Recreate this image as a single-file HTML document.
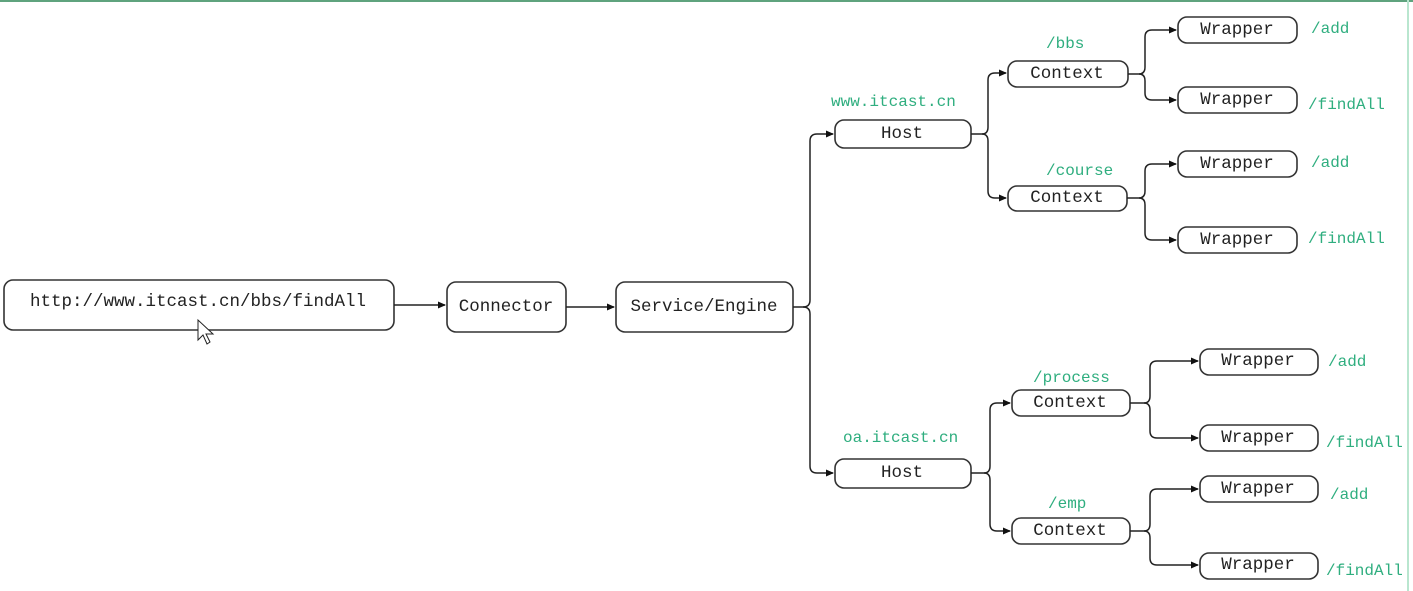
<!DOCTYPE html>
<html><head><meta charset="utf-8"><style>
html,body{margin:0;padding:0;background:#fff;}
svg{display:block;}
text{font-family:"Courier New","Liberation Mono",monospace;font-size:17.5px;}
.b{fill:#fff;stroke:#333;stroke-width:1.6;}
.t{fill:#222;text-anchor:middle;dominant-baseline:central;}
.g{fill:#2fae7f;font-size:16px;}
.l{fill:none;stroke:#222;stroke-width:1.5;}
</style></head><body>
<svg width="1413" height="591" viewBox="0 0 1413 591">
<defs><marker id="a" markerWidth="8" markerHeight="8" refX="7" refY="4" orient="auto" markerUnits="userSpaceOnUse"><path d="M0,0.5 L8,4 L0,7.5z" fill="#111"/></marker></defs>
<rect x="0" y="0" width="1413" height="2" fill="#5fa37e"/>
<rect x="1407" y="0" width="2" height="591" fill="#b9e6cf"/>

<rect class="b" x="4" y="280" width="390" height="50" rx="9"/>
<text class="t" x="198" y="302">http://www.itcast.cn/bbs/findAll</text>
<rect class="b" x="447" y="282" width="119" height="50" rx="9"/>
<text class="t" x="506" y="307">Connector</text>
<rect class="b" x="616" y="282" width="177" height="50" rx="9"/>
<text class="t" x="704" y="307">Service/Engine</text>
<path class="l" d="M394,305 H445" marker-end="url(#a)"/>
<path class="l" d="M566,307 H614" marker-end="url(#a)"/>
<path class="l" d="M793,307 H803 Q810,307 810,300 V141 Q810,134 817,134 H833" marker-end="url(#a)"/>
<path class="l" d="M803,307 Q810,307 810,314 V466 Q810,473 817,473 H833" marker-end="url(#a)"/>

<rect class="b" x="835" y="120" width="136" height="28" rx="9"/>
<text class="t" x="902" y="134">Host</text>
<text class="g" x="831" y="106">www.itcast.cn</text>
<rect class="b" x="835" y="459" width="136" height="29" rx="9"/>
<text class="t" x="902" y="473">Host</text>
<text class="g" x="843" y="442">oa.itcast.cn</text>

<path class="l" d="M971,134 H982 Q988,134 988,127 V80 Q988,73 995,73 H1006" marker-end="url(#a)"/>
<path class="l" d="M982,134 Q988,134 988,141 V191 Q988,198 995,198 H1006" marker-end="url(#a)"/>
<rect class="b" x="1008" y="61" width="120" height="26" rx="9"/>
<text class="t" x="1067" y="74">Context</text>
<text class="g" x="1046" y="48">/bbs</text>
<rect class="b" x="1008" y="186" width="119" height="25" rx="9"/>
<text class="t" x="1067" y="198">Context</text>
<text class="g" x="1046" y="175">/course</text>

<path class="l" d="M971,473 H984 Q990,473 990,466 V410 Q990,403 997,403 H1010" marker-end="url(#a)"/>
<path class="l" d="M984,473 Q990,473 990,480 V524 Q990,531 997,531 H1010" marker-end="url(#a)"/>
<rect class="b" x="1012" y="390" width="118" height="26" rx="9"/>
<text class="t" x="1070" y="403">Context</text>
<text class="g" x="1033" y="382">/process</text>
<rect class="b" x="1012" y="518" width="118" height="26" rx="9"/>
<text class="t" x="1070" y="531">Context</text>
<text class="g" x="1048" y="508">/emp</text>

<path class="l" d="M1128,74 H1139 Q1145,74 1145,67 V37 Q1145,30 1152,30 H1176" marker-end="url(#a)"/>
<path class="l" d="M1139,74 Q1145,74 1145,81 V93 Q1145,100 1152,100 H1176" marker-end="url(#a)"/>
<path class="l" d="M1127,198 H1139 Q1145,198 1145,191 V171 Q1145,164 1152,164 H1176" marker-end="url(#a)"/>
<path class="l" d="M1139,198 Q1145,198 1145,205 V233 Q1145,240 1152,240 H1176" marker-end="url(#a)"/>
<rect class="b" x="1178" y="17" width="119" height="26" rx="9"/><text class="t" x="1237" y="30">Wrapper</text><text class="g" x="1311" y="33">/add</text>
<rect class="b" x="1178" y="87" width="119" height="26" rx="9"/><text class="t" x="1237" y="100">Wrapper</text><text class="g" x="1308" y="109">/findAll</text>
<rect class="b" x="1178" y="151" width="119" height="26" rx="9"/><text class="t" x="1237" y="164">Wrapper</text><text class="g" x="1311" y="167">/add</text>
<rect class="b" x="1178" y="227" width="119" height="26" rx="9"/><text class="t" x="1237" y="240">Wrapper</text><text class="g" x="1308" y="243">/findAll</text>

<path class="l" d="M1130,403 H1144 Q1150,403 1150,396 V368 Q1150,361 1157,361 H1198" marker-end="url(#a)"/>
<path class="l" d="M1144,403 Q1150,403 1150,410 V431 Q1150,438 1157,438 H1198" marker-end="url(#a)"/>
<path class="l" d="M1130,531 H1144 Q1150,531 1150,524 V496 Q1150,489 1157,489 H1198" marker-end="url(#a)"/>
<path class="l" d="M1144,531 Q1150,531 1150,538 V558 Q1150,565 1157,565 H1198" marker-end="url(#a)"/>
<rect class="b" x="1200" y="349" width="118" height="26" rx="9"/><text class="t" x="1258" y="361">Wrapper</text><text class="g" x="1328" y="366">/add</text>
<rect class="b" x="1200" y="425" width="118" height="26" rx="9"/><text class="t" x="1258" y="438">Wrapper</text><text class="g" x="1326" y="447">/findAll</text>
<rect class="b" x="1200" y="476" width="118" height="26" rx="9"/><text class="t" x="1258" y="489">Wrapper</text><text class="g" x="1330" y="499">/add</text>
<rect class="b" x="1200" y="553" width="118" height="26" rx="9"/><text class="t" x="1258" y="565">Wrapper</text><text class="g" x="1326" y="575">/findAll</text>

<path d="M198,320 L198,340 L203,335 L207,344 L210,342 L206,334 L213,334 Z" fill="#fff" stroke="#222" stroke-width="1"/>
</svg>
</body></html>
